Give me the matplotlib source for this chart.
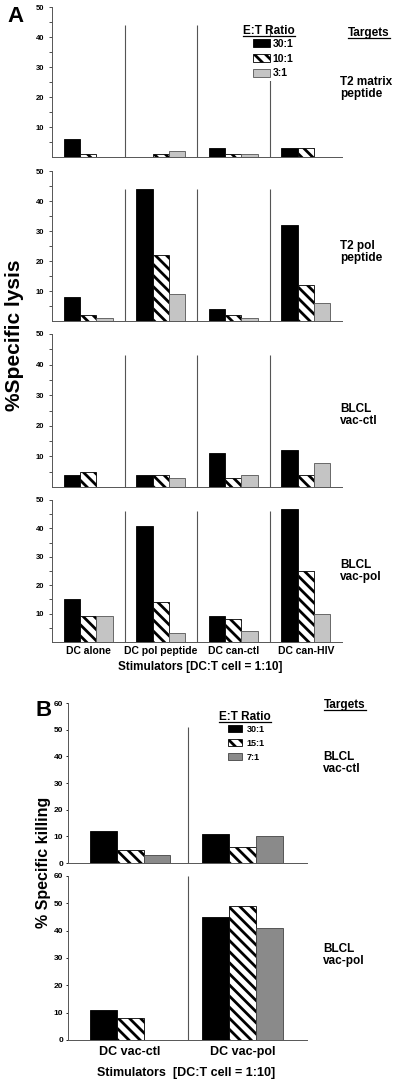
import numpy as np
import matplotlib
matplotlib.use("Agg")
import matplotlib.pyplot as plt
from matplotlib.lines import Line2D

plt.rcParams['font.family'] = ['Liberation Sans', 'DejaVu Sans']
plt.rcParams['font.weight'] = 'bold'
plt.rcParams['hatch.linewidth'] = 2.0

# ---- data, panel A ----
stim_a = ["DC alone", "DC pol peptide", "DC can-ctl", "DC can-HIV"]
targets_a = ["T2 matrix\npeptide", "T2 pol\npeptide", "BLCL\nvac-ctl", "BLCL\nvac-pol"]
ratios_a = ["30:1", "10:1", "3:1"]
# each target panel: [30:1 values], [10:1 values], [3:1 values] per stimulator
t2_matrix = [[6, 0, 3, 3], [1, 1, 1, 3], [0, 2, 1, 0]]
t2_pol = [[8, 44, 4, 32], [2, 22, 2, 12], [1, 9, 1, 6]]
blcl_ctl_a = [[4, 4, 11, 12], [5, 4, 3, 4], [0, 3, 4, 8]]
blcl_pol_a = [[15, 41, 9, 47], [9, 14, 8, 25], [9, 3, 4, 10]]
panels_a = [t2_matrix, t2_pol, blcl_ctl_a, blcl_pol_a]

# ---- data, panel B ----
stim_b = ["DC vac-ctl", "DC vac-pol"]
targets_b = ["BLCL\nvac-ctl", "BLCL\nvac-pol"]
ratios_b = ["30:1", "15:1", "7:1"]
blcl_ctl_b = [[12, 11], [5, 6], [3, 10]]
blcl_pol_b = [[11, 45], [8, 49], [0, 41]]
panels_b = [blcl_ctl_b, blcl_pol_b]

W, H = 400, 1086
fig = plt.figure(figsize=(W / 100, H / 100), dpi=100)


def px_axes(left, right, top, bottom):
    return fig.add_axes([left / W, 1 - bottom / H, (right - left) / W, (bottom - top) / H])


def ftext(x, y, s, **kw):
    return fig.text(x / W, 1 - y / H, s, **kw)


def bar_style(kind):
    return dict(black=dict(color="black", edgecolor="black", linewidth=0.6),
                hatch=dict(color="white", edgecolor="black", hatch="\\\\\\", linewidth=0.6),
                gray=dict(color="#c4c4c4", edgecolor="#555555", linewidth=0.6),
                dgray=dict(color="#8a8a8a", edgecolor="#444444", linewidth=0.6))[kind]


def clean_axes(ax):
    for s in ["top", "right"]:
        ax.spines[s].set_visible(False)
    for s in ["left", "bottom"]:
        ax.spines[s].set_color("#555555")
        ax.spines[s].set_linewidth(0.7)


width = 0.225

# panel A axes (pixel positions)
rows_a = [(7, 157), (171, 321), (334, 487), (500, 642)]
sep_top = [44, 44, 43, 46]
axes_a = []
for i, (top, bot) in enumerate(rows_a):
    ax = px_axes(52, 342, top, bot)
    data = panels_a[i]
    x = np.arange(len(stim_a))
    for j, k in enumerate(["black", "hatch", "gray"]):
        ax.bar(x + (j - 1) * width, data[j], width, label=ratios_a[j], zorder=2, **bar_style(k))
    ax.vlines([0.5, 1.5, 2.5], 0, sep_top[i], color="#555555", lw=0.8, zorder=1)
    ax.set_xlim(-0.5, 3.5)
    ax.set_ylim(0, 50)
    ax.set_yticks([10, 20, 30, 40, 50])
    ax.set_yticks([5, 15, 25, 35, 45], minor=True)
    ax.tick_params(axis="y", which="both", direction="out", length=2.5, width=0.6,
                   labelsize=5.5, colors="#333333", labelcolor="black", pad=3)
    ax.set_xticks([])
    clean_axes(ax)
    ftext(340, [88, 252, 415, 571][i], targets_a[i], fontsize=8.5, va="center", ha="left",
          linespacing=1.1)
    axes_a.append(ax)

ax = axes_a[-1]
ax.set_xticks(np.arange(len(stim_a)))
ax.set_xticklabels(stim_a, fontsize=7.5)
ax.tick_params(axis="x", length=0, pad=3)

ftext(200, 667, "Stimulators [DC:T cell = 1:10]", fontsize=8.5, ha="center", va="center")
ftext(15, 335, "%Specific lysis", fontsize=15, rotation=90, ha="center", va="center")
ftext(15, 17, "A", fontsize=16, ha="center", va="center")

h, l = axes_a[0].get_legend_handles_labels()
leg = axes_a[0].legend(h, l, loc="upper left", bbox_to_anchor=(251 / W, 1 - 37 / H),
                       bbox_transform=fig.transFigure, fontsize=7.5, frameon=True,
                       handlelength=1.6, handleheight=0.8, labelspacing=0.45,
                       handletextpad=0.25, borderpad=0.2, borderaxespad=0)
leg.get_frame().set_edgecolor("none")
leg.get_frame().set_facecolor("white")
leg.get_frame().set_alpha(1)
leg.set_zorder(5)

u1 = ftext(269, 31, "E:T Ratio", fontsize=8.5, ha="center", va="center")
u2 = ftext(369, 33, "Targets", fontsize=8.5, ha="center", va="center")

# panel B
rows_b = [(703, 863), (876, 1040)]
sep_b = [51, 60]
xb = np.array([0.02, 0.96])
axes_b = []
for i, (top, bot) in enumerate(rows_b):
    ax = px_axes(68, 307, top, bot)
    data = panels_b[i]
    for j, k in enumerate(["black", "hatch", "dgray"]):
        ax.bar(xb + (j - 1) * width, data[j], width, label=ratios_b[j], zorder=2, **bar_style(k))
    ax.vlines([0.5], 0, sep_b[i], color="#555555", lw=0.8, zorder=1)
    ax.set_xlim(-0.5, 1.5)
    ax.set_ylim(0, 60)
    ax.set_yticks(np.arange(0, 61, 10))
    ax.tick_params(axis="y", direction="out", length=1.5, width=0.6, labelsize=6, pad=2)
    ax.set_xticks([])
    clean_axes(ax)
    ftext(323, [763, 955][i], targets_b[i], fontsize=8.5, va="center", ha="left",
          linespacing=1.1)
    axes_b.append(ax)

ax = axes_b[-1]
ax.set_xticks(xb)
ax.set_xticklabels(stim_b, fontsize=9)
ax.tick_params(axis="x", length=0, pad=4)

ftext(186, 1073, "Stimulators  [DC:T cell = 1:10]", fontsize=9, ha="center", va="center")
ftext(44, 862, "% Specific killing", fontsize=11.5, rotation=90, ha="center", va="center")
ftext(44, 711, "B", fontsize=16, ha="center", va="center")

h, l = axes_b[0].get_legend_handles_labels()
leg = axes_b[0].legend(h, l, loc="upper left", bbox_to_anchor=(226 / W, 1 - 723 / H),
                       bbox_transform=fig.transFigure, fontsize=6.5, frameon=False,
                       handlelength=1.6, handleheight=0.9, labelspacing=0.55,
                       handletextpad=0.5, borderpad=0.2, borderaxespad=0)

u3 = ftext(245, 717, "E:T Ratio", fontsize=8.5, ha="center", va="center")
u4 = ftext(345, 705, "Targets", fontsize=8.5, ha="center", va="center")

# underline the headers
fig.canvas.draw()
r = fig.canvas.get_renderer()
for t in [u1, u2, u3, u4]:
    bb = t.get_window_extent(r).transformed(fig.transFigure.inverted())
    fig.add_artist(Line2D([bb.x0, bb.x1], [bb.y0 + 0.001, bb.y0 + 0.001],
                          transform=fig.transFigure, color="black", lw=0.9))

fig.savefig("out.png", dpi=100)
